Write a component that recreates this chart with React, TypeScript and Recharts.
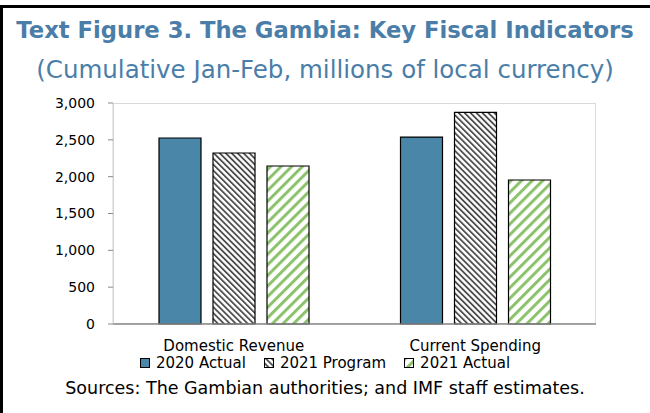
import React from "react";
import { Bar, BarChart, XAxis, YAxis } from "recharts";

const categories = ["Domestic Revenue", "Current Spending"];
const actual2020 = [2525, 2538];
const program2021 = [2321, 2874];
const actual2021 = [2145, 1955];
const yTicks = [0, 500, 1000, 1500, 2000, 2500, 3000];

const series = [
  { key: "actual2020", name: "2020 Actual", fill: "#4a86a8" },
  { key: "program2021", name: "2021 Program", fill: "url(#hatchProgram)" },
  { key: "actual2021", name: "2021 Actual", fill: "url(#hatchGreen)" },
];

const data = categories.map((name, i) => ({
  name,
  actual2020: actual2020[i],
  program2021: program2021[i],
  actual2021: actual2021[i],
}));

const FONT = "'DejaVu Sans', sans-serif";
const TITLE_BLUE = "#4a7ea8";

function Patterns() {
  return (
    <svg width={0} height={0} style={{ position: "absolute" }}>
      <defs>
        <pattern id="hatchProgram" patternUnits="userSpaceOnUse" width={4.2} height={4.2} patternTransform="rotate(-45)">
          <rect width={4.2} height={4.2} fill="#fff" />
          <rect width={1.8} height={4.2} fill="#4d4d4d" />
        </pattern>
        <pattern id="hatchGreen" patternUnits="userSpaceOnUse" width={7.5} height={7.5} patternTransform="rotate(45)">
          <rect width={7.5} height={7.5} fill="#fff" />
          <rect width={3} height={7.5} fill="#8cc26c" />
        </pattern>
      </defs>
    </svg>
  );
}

function LegendRow() {
  return (
    <div
      style={{
        position: "absolute",
        top: 353,
        left: 0,
        width: 650,
        display: "flex",
        justifyContent: "center",
        gap: 18,
        fontFamily: FONT,
        fontSize: 15,
        lineHeight: "20px",
        color: "#000",
      }}
    >
      {series.map((s) => (
        <div key={s.key} style={{ display: "flex", alignItems: "center" }}>
          <svg width={11} height={11} style={{ marginRight: 5 }}>
            <rect x={0.5} y={0.5} width={9} height={9} fill={s.fill} stroke="#000" strokeWidth={1} />
          </svg>
          <span>{s.name}</span>
        </div>
      ))}
    </div>
  );
}

export default function App() {
  return (
    <div style={{ position: "absolute", left: 0, top: 0, width: 650, height: 413, background: "#fff", overflow: "hidden" }}>
      <Patterns />
      <div style={{ position: "absolute", left: 0, top: 5, width: 650, height: 2.5, background: "#000" }} />
      <div style={{ position: "absolute", left: 0, top: 5, width: 2.5, height: 408, background: "#000" }} />
      <div
        style={{
          position: "absolute",
          top: 17,
          left: 0,
          width: 650,
          textAlign: "center",
          fontFamily: FONT,
          fontWeight: "bold",
          fontSize: 22.7,
          color: TITLE_BLUE,
          whiteSpace: "nowrap",
        }}
      >
        Text Figure 3. The Gambia: Key Fiscal Indicators
      </div>
      <div
        style={{
          position: "absolute",
          top: 55,
          left: 0,
          width: 650,
          textAlign: "center",
          fontFamily: FONT,
          fontSize: 24.5,
          color: TITLE_BLUE,
          whiteSpace: "nowrap",
        }}
      >
        (Cumulative Jan-Feb, millions of local currency)
      </div>
      <div style={{ position: "absolute", left: 113, top: 103, width: 483, height: 221, border: "1px solid #d9d9d9", boxSizing: "border-box" }} />
      <div style={{ position: "absolute", left: 0, top: 0 }}>
        <BarChart width={650} height={413} data={data} margin={{ top: 103, right: 54, bottom: 59, left: 60 }} barSize={42} barGap={12}>
          <XAxis
            dataKey="name"
            tickLine={false}
            tickSize={0}
            tickMargin={16}
            axisLine={{ stroke: "#898989", strokeWidth: 1.5 }}
            tick={{ fill: "#000", fontSize: 15, fontFamily: FONT }}
            height={30}
          />
          <YAxis
            domain={[0, 3000]}
            ticks={yTicks}
            width={53}
            tickSize={5}
            tickMargin={13}
            tickLine={{ stroke: "#898989" }}
            axisLine={{ stroke: "#d0d0d0" }}
            tickFormatter={(v: number) => v.toLocaleString("en-US")}
            tick={{ fill: "#000", fontSize: 14, fontFamily: FONT }}
          />
          {series.map((s) => (
            <Bar key={s.key} dataKey={s.key} name={s.name} fill={s.fill} stroke="#000" strokeWidth={1.2} isAnimationActive={false} />
          ))}
        </BarChart>
      </div>
      <LegendRow />
      <div
        style={{
          position: "absolute",
          top: 378,
          left: 0,
          width: 650,
          textAlign: "center",
          fontFamily: FONT,
          fontSize: 17.5,
          color: "#000",
          whiteSpace: "nowrap",
        }}
      >
        Sources: The Gambian authorities; and IMF staff estimates.
      </div>
    </div>
  );
}
